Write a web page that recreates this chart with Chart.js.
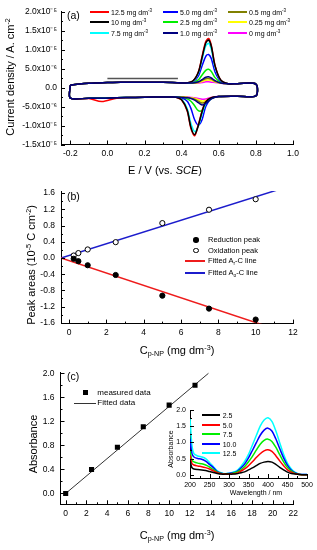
<!DOCTYPE html>
<html>
<head>
<meta charset="utf-8">
<script src="https://cdn.jsdelivr.net/npm/chart.js@4"></script>
<style>
  body { margin: 0; width: 317px; height: 550px; position: relative; background: #fff; overflow: hidden; }
  canvas { position: absolute; }
  .lbl { position: absolute; white-space: nowrap; line-height: 1; font-family: 'Liberation Sans', Arial, sans-serif; color: #000; }
  .lbl sup, .lbl sub { font-size: 65%; line-height: 0; }
  .lbl sup { vertical-align: 0.45em; }
  .lbl sub { vertical-align: -0.3em; }
  .sw { position: absolute; }
</style>
</head>
<body>
<canvas id="chartA" width="317" height="180" style="left:0;top:0"></canvas>
<canvas id="chartB" width="317" height="180" style="left:0;top:180px"></canvas>
<canvas id="chartC" width="317" height="190" style="left:0;top:360px"></canvas>
<canvas id="chartInset" width="157" height="100" style="left:160px;top:400px"></canvas>
<script>
// ---- (a) cyclic voltammograms, current in units of 1e-5 A cm-2 ----
const cvConcLabels = ['12.5', '10', '7.5', '5.0', '2.5', '1.0', '0.5', '0.25', '0'];
const cvForwardE = [-0.2, -0.15, -0.1, -0.05, 0.0, 0.07, 0.15, 0.25, 0.35, 0.42, 0.46, 0.49, 0.51, 0.53, 0.545, 0.56, 0.58, 0.61, 0.65, 0.7, 0.8];
const cvReverseE = [0.8, 0.7, 0.6, 0.56, 0.53, 0.51, 0.49, 0.47, 0.45, 0.43, 0.4, 0.37, 0.35, 0.25, 0.15, 0.05, -0.03, -0.1, -0.2];
const cvForwardI = [
  [0.06, 0.09, 0.11, 0.12, 0.13, 0.14, 0.14, 0.14, 0.13, 0.12, 0.17, 0.41, 0.82, 1.21, 1.29, 1.11, 0.58, 0.20, 0.10, 0.10, 0.09],
  [0.06, 0.09, 0.11, 0.12, 0.13, 0.14, 0.14, 0.14, 0.13, 0.12, 0.17, 0.40, 0.79, 1.17, 1.25, 1.08, 0.57, 0.20, 0.10, 0.10, 0.09],
  [0.06, 0.09, 0.11, 0.12, 0.13, 0.14, 0.14, 0.14, 0.13, 0.12, 0.16, 0.37, 0.74, 1.09, 1.16, 1.00, 0.53, 0.19, 0.10, 0.10, 0.09],
  [0.06, 0.09, 0.11, 0.12, 0.13, 0.14, 0.14, 0.14, 0.13, 0.12, 0.15, 0.30, 0.57, 0.82, 0.87, 0.76, 0.41, 0.17, 0.10, 0.10, 0.09],
  [0.06, 0.09, 0.11, 0.12, 0.13, 0.14, 0.14, 0.14, 0.13, 0.12, 0.13, 0.20, 0.33, 0.45, 0.48, 0.42, 0.26, 0.14, 0.10, 0.10, 0.09],
  [0.06, 0.09, 0.11, 0.12, 0.13, 0.14, 0.14, 0.14, 0.13, 0.12, 0.12, 0.15, 0.21, 0.27, 0.28, 0.25, 0.18, 0.12, 0.10, 0.10, 0.09],
  [0.06, 0.09, 0.11, 0.12, 0.13, 0.14, 0.14, 0.14, 0.13, 0.12, 0.12, 0.14, 0.19, 0.23, 0.24, 0.22, 0.16, 0.12, 0.10, 0.10, 0.09],
  [0.06, 0.09, 0.11, 0.12, 0.13, 0.14, 0.14, 0.14, 0.13, 0.12, 0.11, 0.13, 0.16, 0.19, 0.20, 0.19, 0.15, 0.12, 0.10, 0.10, 0.09],
  [0.06, 0.09, 0.11, 0.12, 0.13, 0.14, 0.14, 0.14, 0.13, 0.12, 0.11, 0.12, 0.13, 0.15, 0.15, 0.14, 0.13, 0.11, 0.10, 0.10, 0.09]
];
const cvReverseI = [
  [-0.22, -0.23, -0.24, -0.27, -0.37, -0.62, -0.98, -1.27, -1.08, -0.62, -0.33, -0.26, -0.25, -0.25, -0.26, -0.28, -0.37, -0.29, -0.28],
  [-0.22, -0.23, -0.24, -0.27, -0.38, -0.64, -1.00, -1.24, -1.05, -0.60, -0.32, -0.26, -0.25, -0.25, -0.26, -0.27, -0.28, -0.28, -0.28],
  [-0.22, -0.23, -0.24, -0.28, -0.42, -0.70, -1.02, -1.16, -0.95, -0.55, -0.31, -0.26, -0.25, -0.25, -0.26, -0.27, -0.28, -0.28, -0.28],
  [-0.22, -0.23, -0.24, -0.29, -0.50, -0.85, -0.99, -0.85, -0.55, -0.36, -0.28, -0.26, -0.25, -0.25, -0.26, -0.27, -0.28, -0.28, -0.28],
  [-0.22, -0.23, -0.24, -0.29, -0.45, -0.60, -0.61, -0.48, -0.36, -0.30, -0.27, -0.25, -0.25, -0.25, -0.26, -0.27, -0.28, -0.28, -0.28],
  [-0.22, -0.23, -0.24, -0.30, -0.42, -0.46, -0.40, -0.33, -0.29, -0.27, -0.26, -0.25, -0.25, -0.25, -0.26, -0.27, -0.28, -0.28, -0.28],
  [-0.22, -0.23, -0.24, -0.29, -0.38, -0.41, -0.36, -0.31, -0.28, -0.26, -0.25, -0.25, -0.25, -0.25, -0.26, -0.27, -0.28, -0.28, -0.28],
  [-0.22, -0.23, -0.24, -0.28, -0.34, -0.36, -0.32, -0.29, -0.27, -0.26, -0.25, -0.25, -0.25, -0.25, -0.26, -0.27, -0.28, -0.28, -0.28],
  [-0.22, -0.23, -0.24, -0.26, -0.30, -0.31, -0.29, -0.27, -0.26, -0.25, -0.25, -0.25, -0.25, -0.25, -0.26, -0.27, -0.28, -0.28, -0.28]
];
const cvExtraE = [0.0, 0.38];
const cvExtraI = [0.24, 0.24];
const xTicksA = [-0.2, 0.0, 0.2, 0.4, 0.6, 0.8, 1.0];
const xTickLabelsA = ['-0.2', '0.0', '0.2', '0.4', '0.6', '0.8', '1.0'];
const yTicksA = [-1.5, -1.0, -0.5, 0, 0.5, 1.0, 1.5, 2.0];
const yTickLabelsA = ['-1.5x10\u207B\u2075', '-1.0x10\u207B\u2075', '-5.0x10\u207B\u2076', '0.0', '5.0x10\u207B\u2076', '1.0x10\u207B\u2075', '1.5x10\u207B\u2075', '2.0x10\u207B\u2075'];

// ---- (b) peak areas (1e-5 C cm-2) ----
const concB = [0.25, 0.5, 1.0, 2.5, 5.0, 7.5, 10.0];
const reductionArea = [-0.02, -0.08, -0.18, -0.42, -0.93, -1.25, -1.52];
const oxidationArea = [0.06, 0.12, 0.21, 0.39, 0.86, 1.19, 1.45];
const fitRedC = [-0.43, 12];
const fitRedA = [0.0, -1.90];
const fitOxC = [-0.43, 12];
const fitOxA = [0.0, 1.80];
const xTicksB = [0, 2, 4, 6, 8, 10, 12];
const yTicksB = [-1.6, -1.2, -0.8, -0.4, 0.0, 0.4, 0.8, 1.2, 1.6];
const yTickLabelsB = ['-1.6', '-1.2', '-0.8', '-0.4', '0.0', '0.4', '0.8', '1.2', '1.6'];

// ---- (c) absorbance vs concentration ----
const concC = [0, 2.5, 5.0, 7.5, 10.0, 12.5];
const absorbanceC = [0.0, 0.40, 0.77, 1.11, 1.47, 1.80];
const fitC = [0, 13.8];
const fitAbs = [0.0, 2.0];
const xTicksC = [0, 2, 4, 6, 8, 10, 12, 14, 16, 18, 20, 22];
const yTicksC = [0.0, 0.4, 0.8, 1.2, 1.6, 2.0];
const yTickLabelsC = ['0.0', '0.4', '0.8', '1.2', '1.6', '2.0'];

// ---- (c) inset UV-vis spectra ----
const specLabels = ['2.5', '5.0', '7.5', '10.0', '12.5'];
const wavelength = [200, 205, 210, 220, 230, 240, 250, 260, 270, 280, 290, 300, 310, 320, 330, 340, 350, 360, 370, 380, 390, 400, 410, 420, 430, 440, 450, 460, 470, 480, 490, 500];
const spectra = [
  [0.45, 0.22, 0.18, 0.16, 0.15, 0.13, 0.10, 0.07, 0.04, 0.02, 0.02, 0.02, 0.02, 0.03, 0.06, 0.09, 0.15, 0.21, 0.28, 0.35, 0.39, 0.41, 0.39, 0.32, 0.23, 0.15, 0.08, 0.04, 0.02, 0.01, 0.0, 0.0],
  [0.60, 0.35, 0.30, 0.27, 0.25, 0.22, 0.18, 0.12, 0.06, 0.03, 0.02, 0.02, 0.03, 0.05, 0.11, 0.18, 0.28, 0.40, 0.53, 0.65, 0.74, 0.77, 0.72, 0.59, 0.43, 0.28, 0.15, 0.08, 0.03, 0.01, 0.0, 0.0],
  [0.75, 0.45, 0.40, 0.36, 0.34, 0.30, 0.24, 0.16, 0.08, 0.04, 0.03, 0.03, 0.05, 0.08, 0.15, 0.25, 0.40, 0.57, 0.76, 0.94, 1.06, 1.10, 1.03, 0.85, 0.62, 0.40, 0.22, 0.11, 0.04, 0.01, 0.0, 0.0],
  [1.10, 0.65, 0.55, 0.50, 0.48, 0.42, 0.32, 0.22, 0.10, 0.05, 0.03, 0.04, 0.06, 0.10, 0.20, 0.33, 0.52, 0.75, 0.99, 1.22, 1.38, 1.44, 1.35, 1.11, 0.81, 0.52, 0.29, 0.14, 0.06, 0.02, 0.01, 0.01],
  [1.75, 0.90, 0.65, 0.58, 0.55, 0.50, 0.38, 0.25, 0.12, 0.06, 0.03, 0.05, 0.08, 0.13, 0.25, 0.41, 0.63, 0.92, 1.21, 1.50, 1.69, 1.76, 1.65, 1.36, 0.99, 0.63, 0.35, 0.18, 0.07, 0.02, 0.01, 0.01]
];
const xTicksInset = [200, 250, 300, 350, 400, 450, 500];
const yTicksInset = [0.0, 0.5, 1.0, 1.5, 2.0];
const yTickLabelsInset = ['0.0', '0.5', '1.0', '1.5', '2.0'];

// styles
const cvColors = ['#ff0000', '#000000', '#00ffff', '#0000ff', '#00ee00', '#000080', '#808000', '#ffff00', '#ff00ff'];
const specColors = ['#000000', '#ff0000', '#00ee00', '#0000ff', '#00ffff'];

Chart.defaults.font.family = "'Liberation Sans', Arial, sans-serif";
Chart.defaults.color = '#000';

// Origin-style inward major/minor ticks on the left and bottom axes
const innerTicks = {
  id: 'innerTicks',
  afterDraw(chart) {
    const ctx = chart.ctx;
    const a = chart.chartArea;
    ctx.save();
    ctx.strokeStyle = '#000';
    ctx.lineWidth = 1;
    ctx.beginPath();
    Object.values(chart.scales).forEach(scale => {
      const vals = scale.ticks.map(t => t.value);
      const step = vals[1] - vals[0];
      const mark = (v, len) => {
        const p = Math.round(scale.getPixelForValue(v)) + 0.5;
        if (scale.isHorizontal()) { ctx.moveTo(p, a.bottom); ctx.lineTo(p, a.bottom - len); }
        else { ctx.moveTo(a.left, p); ctx.lineTo(a.left + len, p); }
      };
      vals.forEach(v => mark(v, 4));
      for (let v = vals[0] - step / 2; v <= scale.max + 1e-9; v += step) {
        if (v >= scale.min - 1e-9) mark(v, 2);
      }
    });
    ctx.stroke();
    ctx.restore();
  }
};

function axis(min, max, ticks, labels, size, fontSize, pad) {
  return {
    type: 'linear',
    min: min,
    max: max,
    afterBuildTicks: s => { s.ticks = ticks.map(v => ({ value: v })); },
    afterFit: s => { if (s.isHorizontal()) s.height = size; else s.width = size; },
    ticks: { autoSkip: false, maxRotation: 0, padding: pad, font: { size: fontSize }, callback: (v, i) => labels[i] },
    grid: { display: false, drawTicks: false },
    border: { display: true, color: '#000', width: 1 }
  };
}

function pts(xs, ys) {
  return xs.map((x, i) => ({ x: x, y: ys[i] }));
}

const baseOpts = {
  responsive: false,
  animation: false,
  events: [],
  plugins: { legend: { display: false }, tooltip: { enabled: false } }
};

// (a)
const cvSets = cvConcLabels.map((c, k) => ({
  label: c + ' mg dm-3',
  data: pts(cvForwardE.concat(cvReverseE, [cvForwardE[0]]), cvForwardI[k].concat(cvReverseI[k], [cvForwardI[k][0]])),
  showLine: true,
  borderColor: cvColors[k],
  borderWidth: 1.5,
  pointRadius: 0,
  tension: 0.3
}));
const cvOrder = [5, 1, 0, 2, 3, 4, 6, 7, 8];
new Chart(document.getElementById('chartA'), {
  type: 'scatter',
  data: {
    datasets: cvOrder.map(k => cvSets[k]).concat([{
      data: pts(cvExtraE, cvExtraI), showLine: true, borderColor: '#555', borderWidth: 1.5, pointRadius: 0
    }])
  },
  options: Object.assign({}, baseOpts, {
    layout: { padding: { left: 0, right: 24, top: 11.5, bottom: 0 } },
    scales: {
      x: axis(-0.25, 1.0, xTicksA, xTickLabelsA, 35.5, 8.5, 4),
      y: axis(-1.5, 2.0, yTicksA, yTickLabelsA, 61, 8.5, 4)
    }
  }),
  plugins: [innerTicks]
});

// (b)
new Chart(document.getElementById('chartB'), {
  type: 'scatter',
  data: {
    datasets: [
      { data: pts(concB, reductionArea), pointRadius: 2.6, backgroundColor: '#000', borderColor: '#000', borderWidth: 1 },
      { data: pts(concB, oxidationArea), pointRadius: 2.6, backgroundColor: '#fff', borderColor: '#000', borderWidth: 1 },
      { data: pts(fitRedC, fitRedA), showLine: true, borderColor: '#ee1c1c', borderWidth: 1.5, pointRadius: 0 },
      { data: pts(fitOxC, fitOxA), showLine: true, borderColor: '#1c1ccc', borderWidth: 1.5, pointRadius: 0 }
    ]
  },
  options: Object.assign({}, baseOpts, {
    layout: { padding: { left: 0, right: 24, top: 10.2, bottom: 0 } },
    scales: {
      x: axis(-0.43, 12, xTicksB, xTicksB.map(String), 36.4, 8.5, 4),
      y: axis(-1.62, 1.65, yTicksB, yTickLabelsB, 61, 8.5, 6)
    }
  }),
  plugins: [innerTicks]
});

// (c)
new Chart(document.getElementById('chartC'), {
  type: 'scatter',
  data: {
    datasets: [
      { data: pts(concC, absorbanceC), pointStyle: 'rect', pointRadius: 3.6, backgroundColor: '#000', borderColor: '#000', borderWidth: 0 },
      { data: pts(fitC, fitAbs), showLine: true, borderColor: '#333', borderWidth: 1, pointRadius: 0 }
    ]
  },
  options: Object.assign({}, baseOpts, {
    layout: { padding: { left: 0, right: 23.7, top: 12.1, bottom: 0 } },
    scales: {
      x: axis(-0.5, 22, xTicksC, xTicksC.map(String), 45.7, 8.5, 4),
      y: axis(-0.18, 2.02, yTicksC, yTickLabelsC, 60.5, 8.5, 6)
    }
  }),
  plugins: [innerTicks]
});

// (c) inset
new Chart(document.getElementById('chartInset'), {
  type: 'scatter',
  data: {
    datasets: specLabels.map((c, k) => ({
      label: c,
      data: pts(wavelength, spectra[k]),
      showLine: true,
      borderColor: specColors[k],
      borderWidth: 1.5,
      pointRadius: 0,
      tension: 0.3
    }))
  },
  options: Object.assign({}, baseOpts, {
    layout: { padding: { left: 0, right: 10, top: 10, bottom: 0 } },
    scales: {
      x: axis(200, 500, xTicksInset, xTicksInset.map(String), 22, 7, 3),
      y: axis(-0.1, 2.0, yTicksInset, yTickLabelsInset, 30, 7, 4)
    }
  }),
  plugins: [innerTicks]
});

// ---- text and legends ----
function addText(html, x, y, size, align, rotate) {
  const d = document.createElement('div');
  d.className = 'lbl';
  d.innerHTML = html;
  d.style.left = x + 'px';
  d.style.top = y + 'px';
  d.style.fontSize = size + 'px';
  let t = align === 'center' ? 'translate(-50%,-50%)' : 'translate(0,-50%)';
  if (rotate) t += ' rotate(-90deg)';
  d.style.transform = t;
  document.body.appendChild(d);
}
function addSwatch(x, y, w, h, css) {
  const d = document.createElement('div');
  d.className = 'sw';
  d.style.left = (x - w / 2) + 'px';
  d.style.top = (y - h / 2) + 'px';
  d.style.width = w + 'px';
  d.style.height = h + 'px';
  Object.assign(d.style, css);
  document.body.appendChild(d);
}

const cNP = 'C<sub>p-NP</sub> (mg dm<sup>-3</sup>)';
addText('(a)', 67, 15, 10.5, 'left');
addText('(b)', 67, 196, 10.5, 'left');
addText('(c)', 67, 376, 10.5, 'left');
addText('E / V (vs. <i>SCE</i>)', 165, 170, 11, 'center');
addText('Current density / A. cm<sup>-2</sup>', 10, 77, 11, 'center', true);
addText(cNP, 177, 350, 11, 'center');
addText('Peak areas (10<sup>-5</sup> C cm<sup>-2</sup>)', 31, 265, 11, 'center', true);
addText(cNP, 177, 535, 11, 'center');
addText('Absorbance', 33, 444, 11, 'center', true);
addText('Wavelength / nm', 256, 492, 7, 'center');
addText('Absorbance', 170, 449, 7, 'center', true);

// (a) legend: three columns
const legColX = [90, 163, 228];
const legColW = [19, 15, 19];
const legRowY = [12.3, 22.3, 33.3];
cvConcLabels.forEach((c, k) => {
  const col = Math.floor(k / 3), row = k % 3;
  addSwatch(legColX[col] + legColW[col] / 2, legRowY[row], legColW[col], 2, { background: cvColors[k] });
  addText(c + ' mg dm<sup>-3</sup>', legColX[col] + legColW[col] + 2, legRowY[row], 7, 'left');
});

// (b) legend
addSwatch(196, 240, 5.5, 5.5, { background: '#000', borderRadius: '50%' });
addSwatch(196, 250.7, 5.5, 5.5, { background: '#fff', border: '1px solid #000', borderRadius: '50%', boxSizing: 'border-box' });
addSwatch(195, 261.3, 20, 2, { background: '#ee1c1c' });
addSwatch(195, 272.7, 20, 2, { background: '#1c1ccc' });
addText('Reduction peak', 208, 240, 7.5, 'left');
addText('Oxidation peak', 208, 250.7, 7.5, 'left');
addText('Fitted A<sub>r</sub>-C line', 208, 261.3, 7.5, 'left');
addText('Fitted A<sub>o</sub>-C line', 208, 272.7, 7.5, 'left');

// (c) legend
addSwatch(85, 392.7, 5, 5, { background: '#000' });
addSwatch(85, 403.3, 22, 1, { background: '#333' });
addText('measured data', 97.3, 392.7, 8, 'left');
addText('Fitted data', 97.3, 403.3, 8, 'left');

// inset legend
const insetRowY = [415, 424.5, 434, 443.5, 453];
specLabels.forEach((c, k) => {
  addSwatch(211, insetRowY[k], 18, 2, { background: specColors[k] });
  addText(c, 222.7, insetRowY[k], 7, 'left');
});
</script>
</body>
</html>
